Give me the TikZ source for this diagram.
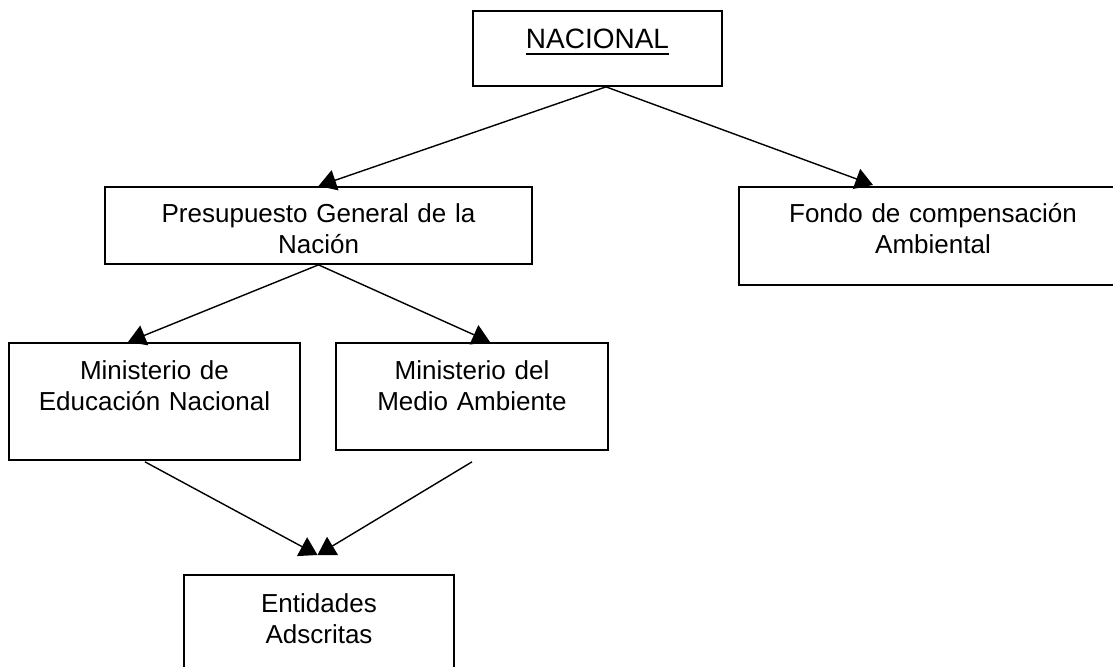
\documentclass[tikz,border=0pt]{standalone}
\usepackage{fontspec}
\setmainfont{Liberation Sans}
\usetikzlibrary{arrows.meta,calc}
\newcommand{\undertext}[1]{\setbox0=\hbox{#1}\rlap{\rule[-4.2pt]{\wd0}{1.4pt}}\box0}

\begin{document}
\begin{tikzpicture}[x=0.025cm, y=-0.025cm,
  box/.style={draw, line width=1.3pt, inner sep=0pt, anchor=north, align=center,
    font=\fontsize{18.5}{22}\selectfont},
  flow/.style={-{Triangle[length=12.5pt,width=15pt]}, line width=1pt}]
\useasboundingbox (0,0) rectangle (1113,666);
\clip (0,0) rectangle (1113,666);

% Top level
\node[box, text width=6.225cm, text height=0.95cm, text depth=0.925cm,
  font=\fontsize{19.9}{22}\selectfont] (nac) at (597.5,10) {\undertext{NACIONAL}};

% Second level
\node[box, text width=10.675cm, text height=0.9cm, text depth=1.025cm] (pgn) at (318.5,186)
  {Presupuesto General de la\\Nación};
\node[box, text width=9.7cm, text height=0.9cm, text depth=1.55cm] (fca) at (933,186)
  {Fondo de compensación\\Ambiental};

% Ministries
\node[box, text width=7.275cm, text height=0.925cm, text depth=2cm] (men) at (154.5,342)
  {Ministerio de\\Educación Nacional};
\node[box, text width=6.8cm, text height=0.925cm, text depth=1.75cm] (mma) at (472,342)
  {Ministerio del\\Medio Ambiente};

% Bottom
\node[box, text width=6.75cm, text height=0.95cm, text depth=2.2cm] (ead) at (319,574)
  {Entidades\\Adscritas};

% Arrows
\draw[flow] ($(nac.south)+(8.5,0)$) -- (pgn.north);
\draw[flow] ($(nac.south)+(8.5,0)$) -- ($(fca.north)+(-60,-1)$);
\draw[flow] (pgn.south) -- ($(men.north)+(-26.5,0)$);
\draw[flow] (pgn.south) -- ($(mma.north)+(18,0)$);
\coordinate (meet) at ($(ead.north)+(-1.5,-19)$);
\draw[flow] ($(men.south)+(-9.5,1)$) -- (meet);
\draw[flow] ($(mma.south)+(0,11)$) -- (meet);
\end{tikzpicture}
\end{document}
